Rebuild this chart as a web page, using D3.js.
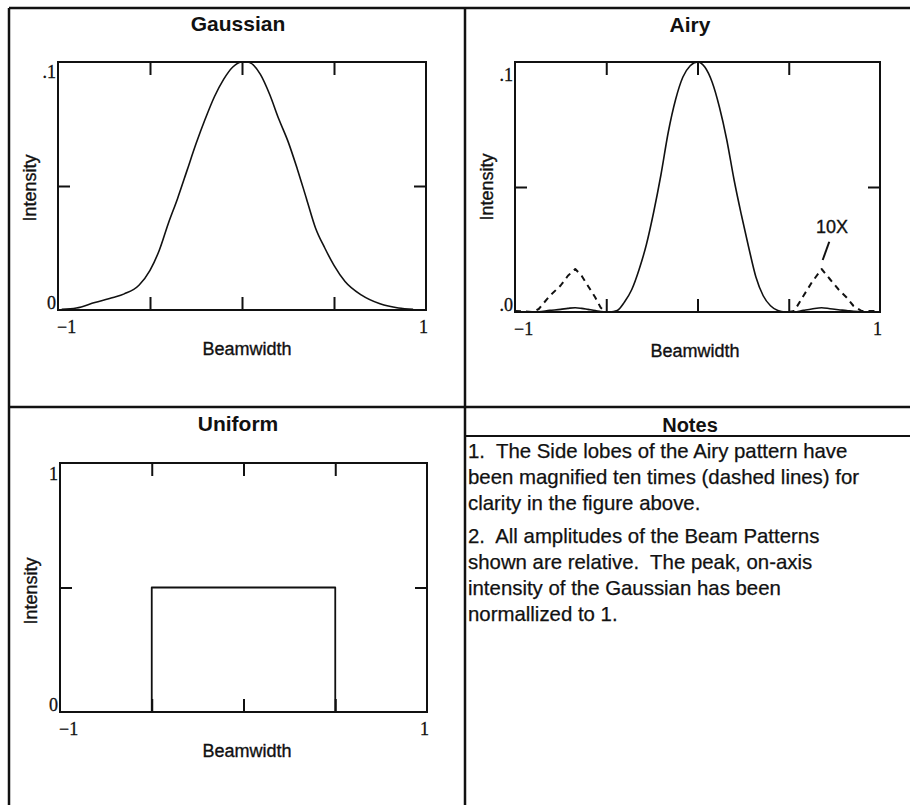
<!DOCTYPE html>
<html>
<head>
<meta charset="utf-8">
<script src="https://cdn.jsdelivr.net/npm/d3@7"></script>
<style>
  body { margin: 0; background: #fff; }
  svg { display: block; }
  text { font-family: "Liberation Sans", Arial, sans-serif; fill: #111; }
  .label { stroke: #111; stroke-width: 0.35px; }
  .num text { font-family: "Liberation Serif", "Times New Roman", serif; font-size: 18px; stroke: #111; stroke-width: 0.3px; }
  .notes text { white-space: pre; stroke: #111; stroke-width: 0.25px; }
</style>
</head>
<body>
<svg id="fig" width="910" height="805"></svg>
<script>
// ---- Gaussian beam profile (relative intensity vs. beamwidth) ----
const gaussX = [-0.98, -0.9, -0.8, -0.7, -0.64, -0.56, -0.5, -0.45, -0.4, -0.35, -0.3, -0.25, -0.2, -0.15, -0.1, -0.05,
                0, 0.03, 0.1, 0.15, 0.2, 0.25, 0.3, 0.35, 0.4, 0.45, 0.5, 0.56, 0.65, 0.75, 0.85, 0.93];
const gaussY = [0.003, 0.008, 0.03, 0.05, 0.065, 0.10, 0.16, 0.24, 0.35, 0.45, 0.56, 0.67, 0.77, 0.86, 0.93, 0.98,
                1.0, 1.0, 0.95, 0.87, 0.77, 0.68, 0.57, 0.45, 0.33, 0.25, 0.18, 0.115, 0.06, 0.025, 0.008, 0.003];

// ---- Airy pattern: central lobe ----
const airyMainX = [-0.5, -0.48, -0.44, -0.4, -0.36, -0.32, -0.28, -0.24, -0.2, -0.16, -0.12, -0.08, -0.04,
                   0, 0.04, 0.08, 0.12, 0.16, 0.2, 0.24, 0.28, 0.32, 0.36, 0.4, 0.44, 0.48, 0.5];
const airyMainY = [0, 0, 0.006, 0.04, 0.09, 0.17, 0.27, 0.40, 0.55, 0.72, 0.85, 0.94, 0.985,
                   1.0, 0.98, 0.92, 0.82, 0.69, 0.53, 0.39, 0.26, 0.14, 0.065, 0.025, 0.006, 0, 0];

// ---- Airy pattern: side lobes (true scale) ----
const airyLeftX  = [-1, -0.94, -0.9, -0.87, -0.81, -0.75, -0.71, -0.67, -0.635, -0.6, -0.56, -0.53, -0.5];
const airyLeftY  = [0.0004, 0.0002, 0, 0.0012, 0.0064, 0.0106, 0.0145, 0.0172, 0.0145, 0.0104, 0.0058, 0.0017, 0];
const airyRightX = [0.5, 0.53, 0.58, 0.626, 0.68, 0.726, 0.772, 0.817, 0.855, 0.9, 0.95, 1];
const airyRightY = [0, 0.0004, 0.0064, 0.0118, 0.0172, 0.0131, 0.0091, 0.0058, 0.0024, 0.0004, 0.0004, 0.0004];
const sideLobeGain = 10;          // dashed copies are magnified by this factor
const gainLabel = "10X";
const gainLabelAt = [0.737, 0.316];
const gainLeader = [[0.722, 0.281], [0.686, 0.208]];

// ---- Uniform (top-hat) profile ----
const uniformX = [-1, -0.5, -0.5, 0.5, 0.5, 1];
const uniformY = [0, 0, 0.5, 0.5, 0, 0];

// ---- Axis ticks ----
const xTickMarks = [-0.5, 0, 0.5];
const yTickMarks = [0.5];
const xEndLabels = ["\u22121", "1"];

const notesTitle = "Notes";
const notesParagraphs = [
  ["1.  The Side lobes of the Airy pattern have",
   "been magnified ten times (dashed lines) for",
   "clarity in the figure above."],
  ["2.  All amplitudes of the Beam Patterns",
   "shown are relative.  The peak, on-axis",
   "intensity of the Gaussian has been",
   "normallized to 1."]
];

const svg = d3.select("#fig");
const zip = (xs, ys) => xs.map((x, i) => [x, ys[i]]);

// Panel frame lines
const frame = svg.append("g").attr("stroke", "#111").attr("stroke-width", 2.5).attr("fill", "none");
frame.append("line").attr("x1", 9).attr("y1", 8).attr("x2", 910).attr("y2", 8);
frame.append("line").attr("x1", 9).attr("y1", 8).attr("x2", 9).attr("y2", 805);
frame.append("line").attr("x1", 465).attr("y1", 8).attr("x2", 465).attr("y2", 805);
frame.append("line").attr("x1", 9).attr("y1", 407).attr("x2", 910).attr("y2", 407);
frame.append("line").attr("x1", 465).attr("y1", 436).attr("x2", 910).attr("y2", 436).attr("stroke-width", 2);

function panel(cfg) {
  const g = svg.append("g");
  const x = d3.scaleLinear().domain([-1, 1]).range([cfg.x0, cfg.x1]);
  const y = d3.scaleLinear().domain([0, 1]).range([cfg.y1, cfg.y0]);

  g.append("text").attr("x", cfg.titleX).attr("y", cfg.titleY)
    .attr("text-anchor", "middle").attr("font-size", 21).attr("font-weight", "bold").text(cfg.title);

  // inward ticks on all four sides
  const tickAxes = [
    [d3.axisBottom(x).tickValues(xTickMarks), `translate(0,${cfg.y1})`, -13],
    [d3.axisTop(x).tickValues(xTickMarks), `translate(0,${cfg.y0})`, -13],
    [d3.axisLeft(y).tickValues(yTickMarks), `translate(${cfg.x0},0)`, -12],
    [d3.axisRight(y).tickValues(yTickMarks), `translate(${cfg.x1},0)`, -12]
  ];
  tickAxes.forEach(([ax, tr, len]) => {
    const a = g.append("g").attr("transform", tr)
      .call(ax.tickSize(len).tickFormat(""));
    a.select(".domain").remove();
    a.selectAll("line").attr("stroke", "#111").attr("stroke-width", 2);
  });

  // plot box
  g.append("rect").attr("x", cfg.x0).attr("y", cfg.y0)
    .attr("width", cfg.x1 - cfg.x0).attr("height", cfg.y1 - cfg.y0)
    .attr("fill", "none").attr("stroke", "#111").attr("stroke-width", 2);

  // end labels on x
  const xl = g.append("g").attr("class", "num");
  xl.append("text").attr("x", x(-1) - 1).attr("y", cfg.y1 + 23).attr("text-anchor", "start").text(xEndLabels[0]);
  xl.append("text").attr("x", x(1) + 2).attr("y", cfg.y1 + 23).attr("text-anchor", "end").text(xEndLabels[1]);

  // end labels on y
  xl.append("text").attr("x", x(-1) - 2).attr("y", y(1) + cfg.topLabelDy).attr("text-anchor", "end").text(cfg.yTop);
  xl.append("text").attr("x", x(-1) - 2).attr("y", y(0) - 1).attr("text-anchor", "end").text(cfg.yBottom);

  g.append("text").attr("class", "label").attr("x", cfg.xLabelX).attr("y", cfg.y1 + 45)
    .attr("text-anchor", "middle").attr("font-size", 18).text("Beamwidth");
  g.append("text").attr("class", "label").attr("transform", `translate(${cfg.yLabelX},${cfg.yLabelY}) rotate(-90)`)
    .attr("text-anchor", "middle").attr("font-size", 18).text("Intensity");

  return { g, x, y };
}

function trace(p, pts, opts) {
  const line = d3.line().x(d => p.x(d[0])).y(d => p.y(d[1])).curve(opts.curve || d3.curveLinear);
  p.g.append("path").datum(pts).attr("d", line)
    .attr("fill", "none").attr("stroke", "#111")
    .attr("stroke-width", opts.width || 1.7)
    .attr("stroke-dasharray", opts.dash || null)
    .attr("stroke-linejoin", "round");
}

// Gaussian
const pg = panel({ x0: 58, x1: 426, y0: 62, y1: 310, title: "Gaussian", titleX: 238, titleY: 31,
  yTop: ".1", yBottom: "0", topLabelDy: 16, xLabelX: 247, yLabelX: 36, yLabelY: 188 });
trace(pg, zip(gaussX, gaussY), { curve: d3.curveMonotoneX, width: 1.6 });

// Airy
const pa = panel({ x0: 515, x1: 880, y0: 62, y1: 312, title: "Airy", titleX: 690, titleY: 32,
  yTop: ".1", yBottom: ".0", topLabelDy: 19, xLabelX: 695, yLabelX: 493, yLabelY: 187 });
const airySolid = zip(airyLeftX, airyLeftY).concat(zip(airyMainX, airyMainY).slice(1), zip(airyRightX, airyRightY).slice(1));
trace(pa, airySolid, { curve: d3.curveMonotoneX, width: 1.6 });
trace(pa, airyLeftX.map((v, i) => [v, airyLeftY[i] * sideLobeGain]), { width: 2, dash: "6,5" });
trace(pa, airyRightX.map((v, i) => [v, airyRightY[i] * sideLobeGain]), { width: 2, dash: "6,5" });
pa.g.append("text").attr("class", "label").attr("x", pa.x(gainLabelAt[0])).attr("y", pa.y(gainLabelAt[1]))
  .attr("text-anchor", "middle").attr("font-size", 18).text(gainLabel);
pa.g.append("line")
  .attr("x1", pa.x(gainLeader[0][0])).attr("y1", pa.y(gainLeader[0][1]))
  .attr("x2", pa.x(gainLeader[1][0])).attr("y2", pa.y(gainLeader[1][1]))
  .attr("stroke", "#111").attr("stroke-width", 2);

// Uniform
const pu = panel({ x0: 60, x1: 427, y0: 463, y1: 712, title: "Uniform", titleX: 238, titleY: 431,
  yTop: "1", yBottom: "0", topLabelDy: 17, xLabelX: 247, yLabelX: 37, yLabelY: 591 });
trace(pu, zip(uniformX, uniformY), { width: 1.8 });

// Notes
svg.append("text").attr("x", 690).attr("y", 432).attr("text-anchor", "middle")
  .attr("font-size", 20).attr("font-weight", "bold").text(notesTitle);
let baseline = 458;
const notes = svg.append("g").attr("class", "notes").attr("font-size", 20.4);
notesParagraphs.forEach((para, pi) => {
  if (pi > 0) baseline += 7;
  para.forEach(line => {
    notes.append("text").attr("x", 468).attr("y", baseline).text(line);
    baseline += 26;
  });
});
</script>
</body>
</html>
